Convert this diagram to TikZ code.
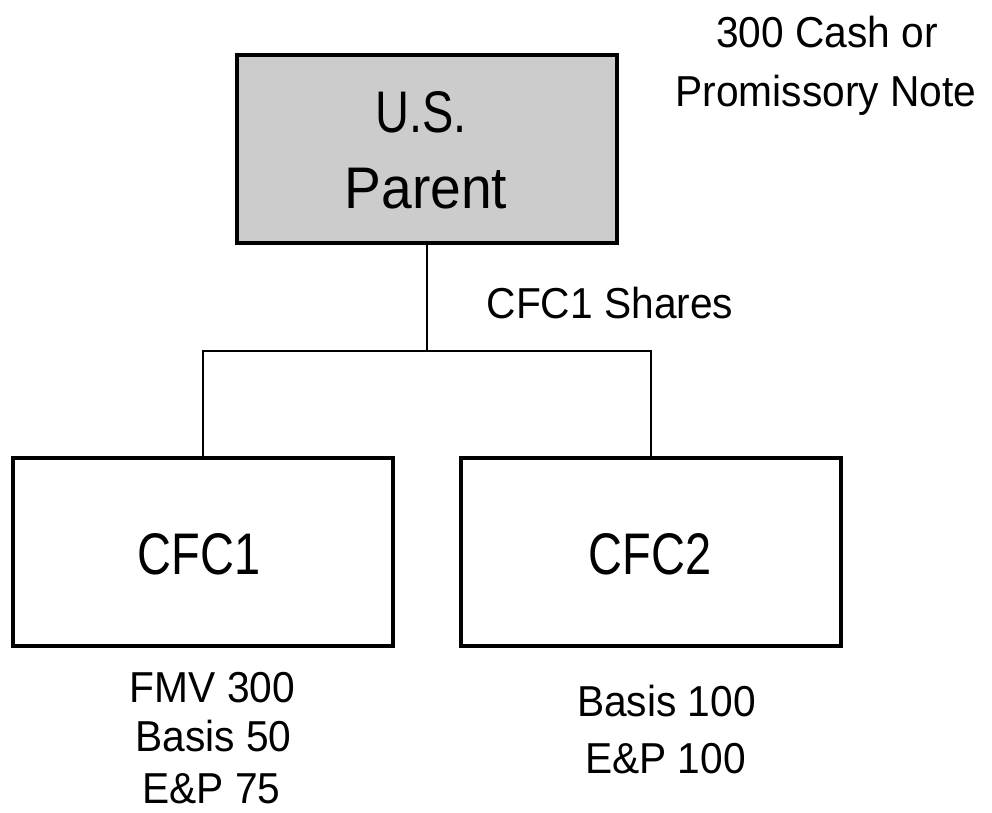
\documentclass[tikz,border=0pt]{standalone}
\usepackage{fontspec}
\setmainfont{Liberation Sans}[FakeStretch=0.94]
\newfontfamily\narrowfont{Liberation Sans}[FakeStretch=0.8]
\definecolor{boxgray}{RGB}{204,204,204}
\tikzset{
  entity/.style={draw=black, line width=4pt, minimum width=380pt, minimum height=188pt, inner sep=0pt},
  bigtext/.style={anchor=base, inner sep=0pt, font=\fontsize{58.7}{70}\selectfont},
  bignarrow/.style={anchor=base, inner sep=0pt, font=\narrowfont\fontsize{58.7}{70}\selectfont},
  smalltext/.style={anchor=base, inner sep=0pt, font=\fontsize{43.3}{52}\selectfont},
  link/.style={draw=black, line width=2pt}
}
\begin{document}
\begin{tikzpicture}[x=1pt,y=-1pt]
\useasboundingbox (0,0) rectangle (992,812);
% boxes
\node[entity, fill=boxgray] (parent) at (427,149) {};
\node[entity, fill=white] (cfc1) at (203,552) {};
\node[entity, fill=white] (cfc2) at (651,552) {};
% box texts
\node[bignarrow] (ustxt) at (421,132) {U.S.};
\node[bigtext] (partxt) at (426,208) {Parent};
\node[bignarrow] (cfc1txt) at (199,574) {CFC1};
\node[bignarrow] (cfc2txt) at (650,574) {CFC2};
% connectors
\coordinate (junction) at (427,351);
\draw[link] (parent.south) -- (junction);
\draw[link] (junction) -| (cfc1.north);
\draw[link] (junction) -| (cfc2.north);
% labels
\node[smalltext] (cash1) at (827,47.6) {300 Cash or};
\node[smalltext] (cash2) at (826,106) {Promissory Note};
\node[smalltext] (shares) at (610,318) {CFC1 Shares};
\node[smalltext] (fmv) at (212.5,702) {FMV 300};
\node[smalltext] (basis1) at (213.5,751) {Basis 50};
\node[smalltext] (ep1) at (211.5,803) {E\&P 75};
\node[smalltext] (basis2) at (666.5,716.5) {Basis 100};
\node[smalltext] (ep2) at (665.5,773) {E\&P 100};
\end{tikzpicture}
\end{document}
